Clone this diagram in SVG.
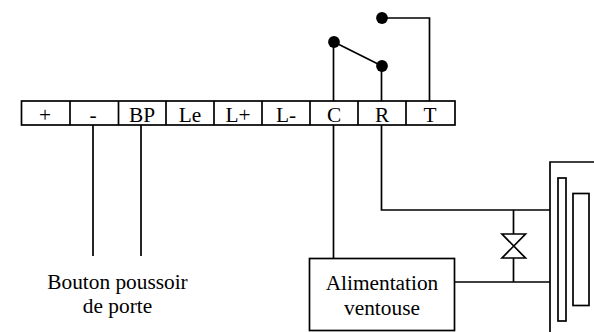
<svg xmlns="http://www.w3.org/2000/svg" width="594" height="332" viewBox="0 0 594 332">
<style>
.l{fill:none;stroke:#000;stroke-width:1.700}
.b{fill:#fff;stroke:#000;stroke-width:1.700}
.d{fill:#000}
text{font-family:"Liberation Serif","Times New Roman",serif;font-size:21.330px;fill:#000;text-anchor:middle}
</style>
<rect width="594" height="332" fill="#fff"/>
<g id="connectors">
<path class="l" d="M93 125V256M141 125V256M333.500 42V101M333.500 125V258M381.500 66V101M381.500 125V210H550M429.500 101V18H382M334 42L382 66M455 282H550M513.500 210V234M513.500 258V282"/>
</g>
<g id="terminal-strip">
<rect class="b" x="21.500" y="101" width="433.500" height="24"/>
<path class="l" d="M70 101V125M118.500 101V125M166 101V125M214 101V125M262 101V125M310 101V125M358 101V125M406 101V125"/>
<text x="45" y="121.500">+</text>
<text x="93" y="121.500">-</text>
<text x="142" y="121.500">BP</text>
<text x="190" y="121.500">Le</text>
<text x="238" y="121.500">L+</text>
<text x="286" y="121.500">L-</text>
<text x="334" y="121.500">C</text>
<text x="382" y="121.500">R</text>
<text x="430" y="121.500">T</text>
</g>
<g id="contact-c"><circle class="d" cx="334" cy="42" r="5.900"/></g>
<g id="contact-r"><circle class="d" cx="382" cy="66" r="5.900"/></g>
<g id="contact-t"><circle class="d" cx="382" cy="18" r="5.900"/></g>
<g id="bouton-label">
<text x="117.500" y="288.500">Bouton poussoir</text>
<text x="117.500" y="313">de porte</text>
</g>
<g id="alimentation">
<rect class="b" x="309.500" y="258.500" width="145" height="72"/>
<text x="382" y="290">Alimentation</text>
<text x="382" y="314.500">ventouse</text>
</g>
<g id="varistor">
<path class="l" d="M502 234H525.500L502 258H525.500Z"/>
</g>
<g id="ventouse">
<path class="l" d="M594 162H550V332"/>
<rect class="b" x="558" y="178" width="8" height="143"/>
<rect class="b" x="573" y="193.500" width="16" height="112"/>
</g>
</svg>
